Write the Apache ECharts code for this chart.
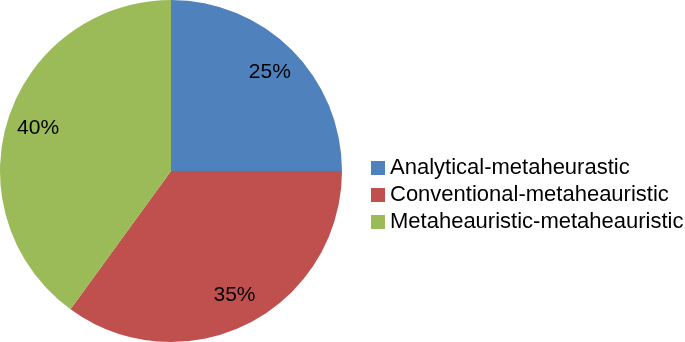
<!DOCTYPE html>
<html><head><meta charset="utf-8">
<script src="https://cdn.jsdelivr.net/npm/echarts@6/dist/echarts.min.js"></script>
<style>html,body{margin:0;padding:0;background:#fff}#c{width:685px;height:342px}</style>
</head><body><div id="c"></div>
<script>
const categories = ['Analytical-metaheurastic', 'Conventional-metaheauristic', 'Metaheauristic-metaheauristic'];
const values = [25, 35, 40];
const colors = ['#4F81BD', '#C0504D', '#9BBB59'];

const data = categories.map((n, i) => ({ name: n, value: values[i], itemStyle: { color: colors[i] } }));
const chart = echarts.init(document.getElementById('c'));
const R = 171;
chart.setOption({
  animation: false,
  legend: {
    orient: 'vertical', left: 366, top: 152,
    itemWidth: 14, itemHeight: 14, itemGap: 5, icon: 'rect',
    textStyle: { fontFamily: 'Liberation Sans', fontSize: 22, lineHeight: 22, color: '#000' },
    data: categories
  },
  series: [
    {
      type: 'pie', center: [171, 171], radius: [0, R], startAngle: 90, clockwise: true,
      label: { show: false }, labelLine: { show: false }, silent: true,
      data: data
    },
    {
      type: 'pie', center: [171, 171], radius: [R * 0.6, R], startAngle: 90, clockwise: true,
      silent: true, legendHoverLink: false,
      itemStyle: { color: 'rgba(0,0,0,0)' },
      label: { show: true, position: 'inside', formatter: '{c}%', fontFamily: 'Liberation Sans', fontSize: 21, color: '#000' },
      labelLine: { show: false },
      data: categories.map((n, i) => ({ name: n + ' ', value: values[i] }))
    }
  ]
});
</script></body></html>
